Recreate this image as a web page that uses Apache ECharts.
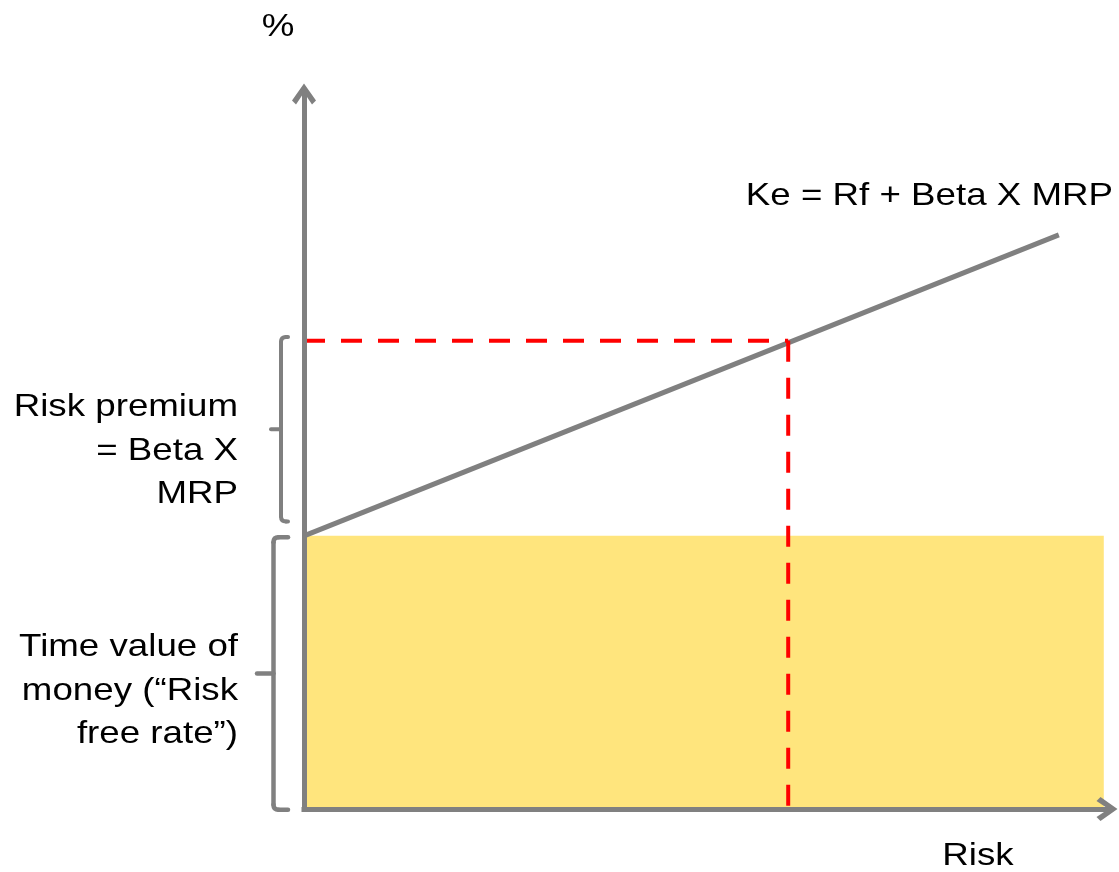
<!DOCTYPE html>
<html>
<head>
<meta charset="utf-8">
<title>Cost of equity (CAPM)</title>
<script src="https://cdn.jsdelivr.net/npm/echarts@6/dist/echarts.min.js"></script>
<style>
  html, body { margin: 0; padding: 0; background: #fff; }
  #main { width: 1119px; height: 872px; }
</style>
</head>
<body>
<div id="main"></div>
<script>
// Risk-free rate level (the yellow band) and the security market line
const riskFreeRate = 38.2;
const bandEnd = 99.6;
const smlLine = [[0, 38.2], [94, 80.3]];
// Point: required return at the chosen beta
const kePoint = [60.3, 65.5];
// Vertical spans covered by the two braces
const premiumSpan = [40.2, 66.0];
const riskFreeSpan = [-0.1, 38.0];

const labels = {
  yName: '%',
  xName: 'Risk',
  formula: 'Ke = Rf + Beta X MRP',
  premium: 'Risk premium\n= Beta X\nMRP',
  riskFree: 'Time value of\nmoney (\u201cRisk\nfree rate\u201d)'
};

const GREY = '#808080';
const RED = '#FF0000';
const YELLOW = '#FFE57D';
const FONT = '"Liberation Sans", Arial, Helvetica, sans-serif';
const FONT_SIZE = 31.5;
const STRETCH = 1.165;

// open chevron used as the arrow head at the end of each axis
const chevron = 'path://M12,0 L24,17 L20,21 L12,9 L4,21 L0,17 Z';

const axisCommon = {
  type: 'value',
  min: 0,
  max: 100,
  z: 10,
  axisLine: {
    show: true,
    symbol: ['none', chevron],
    symbolSize: [24, 21],
    lineStyle: { color: GREY, width: 5, cap: 'square' }
  },
  axisTick: { show: false },
  axisLabel: { show: false },
  splitLine: { show: false }
};

const chart = echarts.init(document.getElementById('main'));

chart.setOption({
  animation: false,
  backgroundColor: '#fff',
  grid: { left: 304, right: 12, top: 94, bottom: 63, containLabel: false },
  xAxis: Object.assign({}, axisCommon),
  yAxis: Object.assign({}, axisCommon),
  series: [
    {
      // risk-free band
      type: 'line',
      data: [[0, riskFreeRate], [bandEnd, riskFreeRate]],
      symbol: 'none',
      lineStyle: { width: 0 },
      areaStyle: { color: YELLOW, opacity: 1 },
      z: 1
    },
    {
      // Ke = Rf + Beta x MRP
      type: 'line',
      data: smlLine,
      symbol: 'none',
      lineStyle: { color: GREY, width: 5 },
      z: 3
    },
    {
      type: 'line',
      data: [[0, kePoint[1]], [kePoint[0], kePoint[1]]],
      symbol: 'none',
      lineStyle: { color: RED, width: 4, type: [21, 16] },
      z: 4
    },
    {
      type: 'line',
      data: [[kePoint[0], kePoint[1]], [kePoint[0], 0]],
      symbol: 'none',
      lineStyle: { color: RED, width: 4, type: [21, 16] },
      z: 4
    }
  ]
});

const yPx = v => chart.convertToPixel({ gridIndex: 0 }, [0, v])[1];

// square bracket with a small point in the middle, rounded at the corners
function brace(span, xLine, xHook, xNub, width) {
  const top = yPx(span[1]);
  const bot = yPx(span[0]);
  const mid = (top + bot) / 2;
  const r = 5;
  const style = { stroke: GREY, lineWidth: width, fill: null, lineCap: 'round', lineJoin: 'round' };
  const seg = (pts) => ({ type: 'polyline', shape: { points: pts }, style: style, z: 20 });
  const curve = (x1, y1, cx, cy, x2, y2) => ({
    type: 'bezierCurve',
    shape: { x1: x1, y1: y1, x2: x2, y2: y2, cpx1: cx, cpy1: cy },
    style: style, z: 20
  });
  return {
    type: 'group',
    children: [
      seg([[xHook, top], [xLine + r, top]]),
      curve(xLine + r, top, xLine, top, xLine, top + r),
      seg([[xLine, top + r], [xLine, bot - r]]),
      curve(xLine, bot - r, xLine, bot, xLine + r, bot),
      seg([[xLine + r, bot], [xHook, bot]]),
      seg([[xLine, mid], [xNub, mid]])
    ]
  };
}

function label(text, x, y, align) {
  return {
    type: 'text',
    x: x,
    y: y,
    scaleX: STRETCH,
    style: {
      text: text,
      fontSize: FONT_SIZE,
      fontFamily: FONT,
      fill: '#000',
      align: align,
      verticalAlign: 'middle',
      lineHeight: 43.5
    },
    z: 30
  };
}

chart.setOption({
  graphic: [
    brace(premiumSpan, 281, 288, 271, 4),
    brace(riskFreeSpan, 273.5, 288, 257, 4.5),
    label(labels.yName, 278, 27, 'center'),
    label(labels.formula, 1113, 196, 'right'),
    label(labels.xName, 978, 856.5, 'center'),
    label(labels.premium, 238, 451, 'right'),
    label(labels.riskFree, 238, 691, 'right')
  ]
});
</script>
</body>
</html>
